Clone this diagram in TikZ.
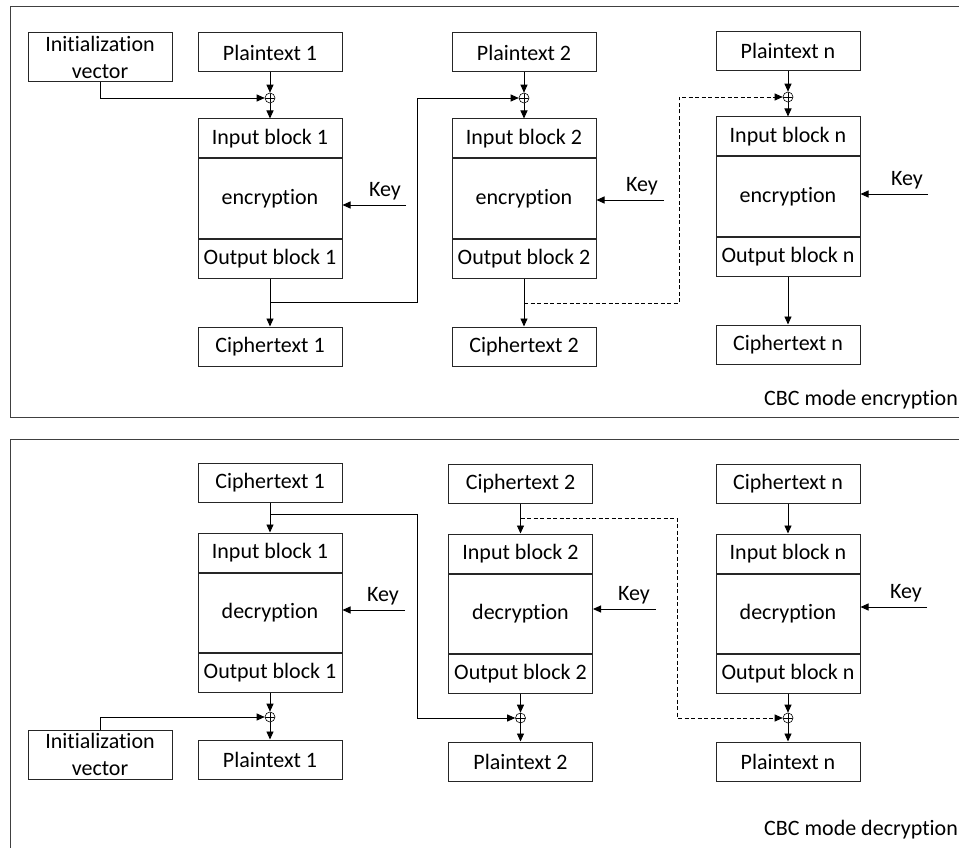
\documentclass[tikz,border=0pt]{standalone}
\usepackage{fontspec}
\setmainfont{Carlito}[Ligatures=NoCommon]
\usetikzlibrary{arrows.meta,positioning}

\begin{document}
\begin{tikzpicture}[
  x=1pt, y=-1pt,
  font=\fontsize{22}{27}\selectfont,
  box/.style={rectangle, draw=black!85, line width=1pt, minimum width=144pt, minimum height=39pt, inner sep=0pt},
  tall/.style={box, minimum height=79pt},
  ivbox/.style={box, minimum height=49pt, align=center},
  xorop/.style={circle, draw, line width=0.6pt, minimum size=10pt, inner sep=0pt,
    path picture={\draw[line width=0.6pt] (path picture bounding box.north) -- (path picture bounding box.south)
      (path picture bounding box.west) -- (path picture bounding box.east);}},
  arw/.style={-{Triangle[length=8pt,width=7pt]}, line width=0.9pt},
  chain/.style={arw, dash pattern=on 4pt off 2.5pt},
  keylbl/.style={inner sep=0pt},
  frame/.style={draw=black!75, line width=0.8pt}
]
  \useasboundingbox (0,0) rectangle (959,848);

  % --- CBC mode encryption ---
  \draw[frame] (10,6) rectangle (980,417);
  \node[ivbox] (ive) at (100,57.5) {Initialization\\vector};

  \node[box] (pt1) at (270,52.5) {Plaintext 1};
  \node[xorop] (xe1) at (270,98) {};
  \node[box] (ie1) at (270,138.5) {Input block 1};
  \node[tall, below=0pt of ie1] (enc1) {encryption};
  \node[box, below=0pt of enc1] (oe1) {Output block 1};
  \node[box] (ce1) at (270,346.5) {Ciphertext 1};

  \node[box] (pt2) at (524,52.5) {Plaintext 2};
  \node[xorop] (xe2) at (524,98) {};
  \node[box] (ie2) at (524,138.5) {Input block 2};
  \node[tall, below=0pt of ie2] (enc2) {encryption};
  \node[box, below=0pt of enc2] (oe2) {Output block 2};
  \node[box] (ce2) at (524,346.5) {Ciphertext 2};

  \node[box] (ptn) at (788,51) {Plaintext n};
  \node[xorop] (xen) at (788,97) {};
  \node[box] (ien) at (788,136.5) {Input block n};
  \node[tall, below=0pt of ien] (encn) {encryption};
  \node[box, below=0pt of encn] (oen) {Output block n};
  \node[box] (cen) at (788,344.5) {Ciphertext n};

  \coordinate (ke1) at (406,205);
  \coordinate (ke2) at (664,200);
  \coordinate (ken) at (928,194);
  \node[keylbl, above left=5pt and 5pt of ke1] (keye1) {Key};
  \node[keylbl, above left=5pt and 6pt of ke2] (keye2) {Key};
  \node[keylbl, above left=5pt and 5pt of ken] (keyen) {Key};

  \node[anchor=west, inner sep=0pt] (lblenc) at (764,400) {CBC mode encryption};

  \draw[arw] (ive) |- (xe1);
  \draw[arw] (pt1) -- (xe1);
  \draw[arw] (xe1) -- (ie1);
  \draw[arw] (oe1) -- (ce1);
  \draw[arw] (pt2) -- (xe2);
  \draw[arw] (xe2) -- (ie2);
  \draw[arw] (oe2) -- (ce2);
  \draw[arw] (ptn) -- (xen);
  \draw[arw] (xen) -- (ien);
  \draw[arw] (oen) -- (cen);
  \draw[arw] (ke1) -- (ke1 -| enc1.east);
  \draw[arw] (ke2) -- (ke2 -| enc2.east);
  \draw[arw] (ken) -- (ken -| encn.east);

  \coordinate (be1) at (270,302);
  \coordinate (ue1) at (417,302);
  \draw[arw] (be1) -- (ue1) |- (xe2);
  \coordinate (be2) at (524,303);
  \coordinate (ue2) at (679,303);
  \draw[chain] (be2) -- (ue2) |- (xen);

  % --- CBC mode decryption ---
  \draw[frame] (10,439) rectangle (980,880);
  \node[ivbox] (ivd) at (100,754.5) {Initialization\\vector};

  \node[box] (cd1) at (270,482.5) {Ciphertext 1};
  \node[box] (id1) at (270,552.5) {Input block 1};
  \node[tall, below=0pt of id1] (dec1) {decryption};
  \node[box, below=0pt of dec1] (od1) {Output block 1};
  \node[xorop] (xd1) at (270,717) {};
  \node[box] (pd1) at (270,759.5) {Plaintext 1};

  \node[box] (cd2) at (520.5,483.5) {Ciphertext 2};
  \node[box] (id2) at (520.5,553.5) {Input block 2};
  \node[tall, below=0pt of id2] (dec2) {decryption};
  \node[box, below=0pt of dec2] (od2) {Output block 2};
  \node[xorop] (xd2) at (520.5,718) {};
  \node[box] (pd2) at (520.5,761.5) {Plaintext 2};

  \node[box] (cdn) at (788,483.5) {Ciphertext n};
  \node[box] (idn) at (788,553.5) {Input block n};
  \node[tall, below=0pt of idn] (decn) {decryption};
  \node[box, below=0pt of decn] (odn) {Output block n};
  \node[xorop] (xdn) at (788,718) {};
  \node[box] (pdn) at (788,761.5) {Plaintext n};

  \coordinate (kd1) at (405,610);
  \coordinate (kd2) at (656,609);
  \coordinate (kdn) at (927,607);
  \node[keylbl, above left=5pt and 6pt of kd1] (keyd1) {Key};
  \node[keylbl, above left=5pt and 6pt of kd2] (keyd2) {Key};
  \node[keylbl, above left=5pt and 5pt of kdn] (keydn) {Key};

  \node[anchor=west, inner sep=0pt] (lbldec) at (764,830) {CBC mode decryption};

  \draw[arw] (cd1) -- (id1);
  \draw[arw] (od1) -- (xd1);
  \draw[arw] (xd1) -- (pd1);
  \draw[arw] (ivd) |- (xd1);
  \draw[arw] (cd2) -- (id2);
  \draw[arw] (od2) -- (xd2);
  \draw[arw] (xd2) -- (pd2);
  \draw[arw] (cdn) -- (idn);
  \draw[arw] (odn) -- (xdn);
  \draw[arw] (xdn) -- (pdn);
  \draw[arw] (kd1) -- (kd1 -| dec1.east);
  \draw[arw] (kd2) -- (kd2 -| dec2.east);
  \draw[arw] (kdn) -- (kdn -| decn.east);

  \coordinate (bd1) at (270,514);
  \coordinate (ud1) at (417,514);
  \draw[arw] (bd1) -- (ud1) |- (xd2);
  \coordinate (bd2) at (520.5,518);
  \coordinate (ud2) at (677,518);
  \draw[chain] (bd2) -- (ud2) |- (xdn);
\end{tikzpicture}
\end{document}
